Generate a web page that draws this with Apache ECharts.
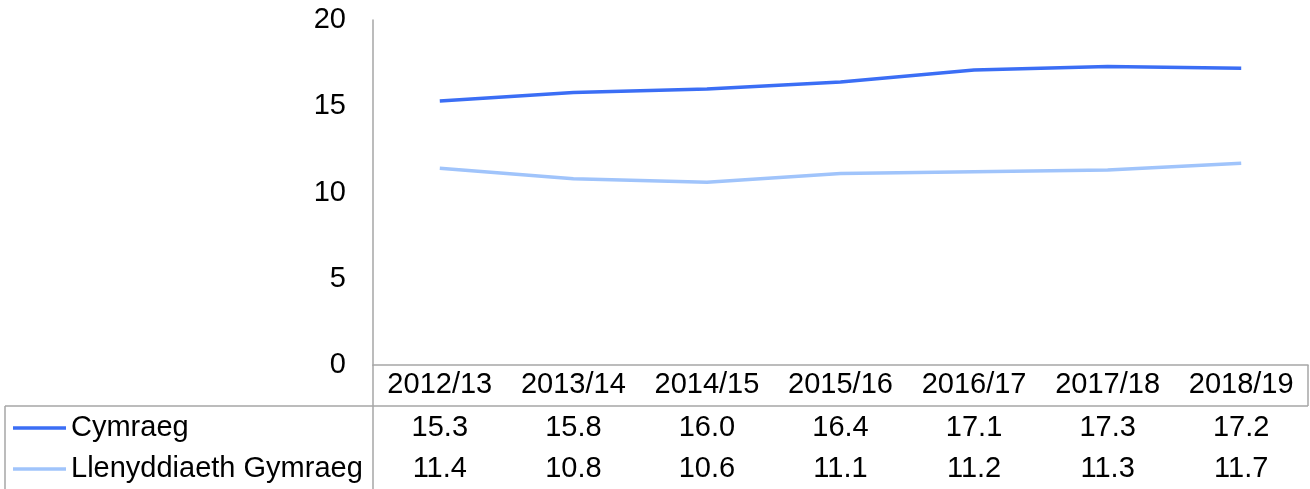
<!DOCTYPE html>
<html>
<head>
<meta charset="utf-8">
<script src="https://cdn.jsdelivr.net/npm/echarts@6/dist/echarts.min.js"></script>
<style>
html,body{margin:0;padding:0;background:#fff;}
#chart{width:1310px;height:489px;}
</style>
</head>
<body>
<div id="chart"></div>
<script>
const categories = ['2012/13','2013/14','2014/15','2015/16','2016/17','2017/18','2018/19'];
const seriesNames = ['Cymraeg','Llenyddiaeth Gymraeg'];
const cymraeg = [15.3, 15.8, 16.0, 16.4, 17.1, 17.3, 17.2];
const llenyddiaeth = [11.4, 10.8, 10.6, 11.1, 11.2, 11.3, 11.7];
const yTicks = [0, 5, 10, 15, 20];

const FONT = "'Liberation Sans', Arial, sans-serif";
const FS = 29;
const GRAY = '#a6a6a6';
const C1 = '#3b6ef5';
const C2 = '#a0c4fb';

const W = 1310, H = 489;
const gridLeft = 373, gridRight = 1308, gridTop = 20, gridBottom = 365;
const rowLine = 406, tableLeft = 5;

const chart = echarts.init(document.getElementById('chart'), null, {renderer:'canvas'});

const labelStyle = {fontFamily: FONT, fontSize: FS, color: '#000', lineHeight: FS};

function valueAxis(values, offset) {
  return {
    type: 'category', position: 'bottom', offset: offset,
    data: values.map(v => v.toFixed(1)),
    boundaryGap: true,
    axisLine: {show: false}, axisTick: {show: false}, splitLine: {show: false},
    axisLabel: Object.assign({margin: 5.5, interval: 0}, labelStyle)
  };
}

const option = {
  backgroundColor: '#fff',
  animation: false,
  grid: {left: gridLeft, right: W - gridRight, top: gridTop, bottom: H - gridBottom, containLabel: false},
  xAxis: [
    {
      type: 'category', data: categories, boundaryGap: true,
      axisLine: {show: true, lineStyle: {color: GRAY, width: 1.5}},
      axisTick: {show: false}, splitLine: {show: false},
      axisLabel: Object.assign({margin: 5.5, interval: 0}, labelStyle)
    },
    valueAxis(cymraeg, 43),
    valueAxis(llenyddiaeth, 84)
  ],
  yAxis: {
    type: 'value', min: yTicks[0], max: yTicks[yTicks.length - 1], interval: 5,
    axisLine: {show: true, lineStyle: {color: GRAY, width: 1.5}},
    axisTick: {show: false}, splitLine: {show: false},
    axisLabel: Object.assign({margin: 27}, labelStyle)
  },
  legend: [
    {
      data: [seriesNames[0]], left: 13, top: 428 - FS / 2, orient: 'horizontal',
      icon: 'rect', itemWidth: 53, itemHeight: 3.5, padding: 0,
      textStyle: labelStyle, selectedMode: false
    },
    {
      data: [seriesNames[1]], left: 13, top: 469 - FS / 2, orient: 'horizontal',
      icon: 'rect', itemWidth: 53, itemHeight: 3.5, padding: 0,
      textStyle: labelStyle, selectedMode: false
    }
  ],
  series: [
    {
      name: seriesNames[0], type: 'line', data: cymraeg, xAxisIndex: 0,
      symbol: 'none', smooth: false,
      lineStyle: {color: C1, width: 3.5}, itemStyle: {color: C1}
    },
    {
      name: seriesNames[1], type: 'line', data: llenyddiaeth, xAxisIndex: 0,
      symbol: 'none', smooth: false,
      lineStyle: {color: C2, width: 3.5}, itemStyle: {color: C2}
    }
  ],
  graphic: [
    {type: 'line', shape: {x1: gridLeft, y1: gridBottom, x2: gridLeft, y2: H}, style: {stroke: GRAY, lineWidth: 1.5}},
    {type: 'line', shape: {x1: gridRight, y1: gridBottom, x2: gridRight, y2: rowLine}, style: {stroke: GRAY, lineWidth: 1.5}},
    {type: 'line', shape: {x1: tableLeft, y1: rowLine, x2: gridRight, y2: rowLine}, style: {stroke: GRAY, lineWidth: 1.5}},
    {type: 'line', shape: {x1: tableLeft, y1: rowLine, x2: tableLeft, y2: H}, style: {stroke: GRAY, lineWidth: 1.5}}
  ]
};
chart.setOption(option);
</script>
</body>
</html>
